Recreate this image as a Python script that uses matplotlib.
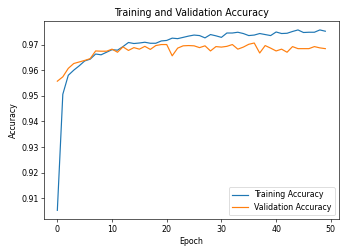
import numpy as np
import matplotlib
matplotlib.use("Agg")
import matplotlib.pyplot as plt

# accuracy per epoch
train_acc = [0.9053, 0.9506, 0.9580, 0.9600, 0.9617, 0.9636, 0.9643, 0.9663, 0.9660, 0.9670,
             0.9680, 0.9678, 0.9692, 0.9708, 0.9704, 0.9706, 0.9709, 0.9705, 0.9705, 0.9714,
             0.9716, 0.9725, 0.9723, 0.9728, 0.9733, 0.9737, 0.9735, 0.9726, 0.9739, 0.9734,
             0.9728, 0.9745, 0.9745, 0.9748, 0.9743, 0.9735, 0.9737, 0.9743, 0.9739, 0.9735,
             0.9749, 0.9743, 0.9744, 0.9751, 0.9757, 0.9747, 0.9748, 0.9748, 0.9757, 0.9752]
val_acc = [0.9557, 0.9574, 0.9607, 0.9626, 0.9632, 0.9638, 0.9645, 0.9675, 0.9674, 0.9674,
           0.9682, 0.9670, 0.9691, 0.9677, 0.9688, 0.9682, 0.9693, 0.9681, 0.9696, 0.9700,
           0.9700, 0.9656, 0.9686, 0.9695, 0.9696, 0.9695, 0.9688, 0.9695, 0.9675, 0.9692,
           0.9690, 0.9693, 0.9700, 0.9682, 0.9690, 0.9701, 0.9706, 0.9667, 0.9696, 0.9686,
           0.9675, 0.9682, 0.9670, 0.9692, 0.9684, 0.9684, 0.9684, 0.9692, 0.9687, 0.9684]
epochs = np.arange(len(train_acc))

dpi = 57
fig = plt.figure(figsize=(346 / dpi, 249 / dpi), dpi=dpi)
ax = fig.add_axes([0.127, 0.119, 0.852, 0.797])

ax.plot(epochs, train_acc, label="Training Accuracy")
ax.plot(epochs, val_acc, label="Validation Accuracy")
ax.set_title("Training and Validation Accuracy")
ax.set_xlabel("Epoch")
ax.set_ylabel("Accuracy")
ax.legend(loc="lower right")

fig.savefig("out.png", dpi=dpi)
